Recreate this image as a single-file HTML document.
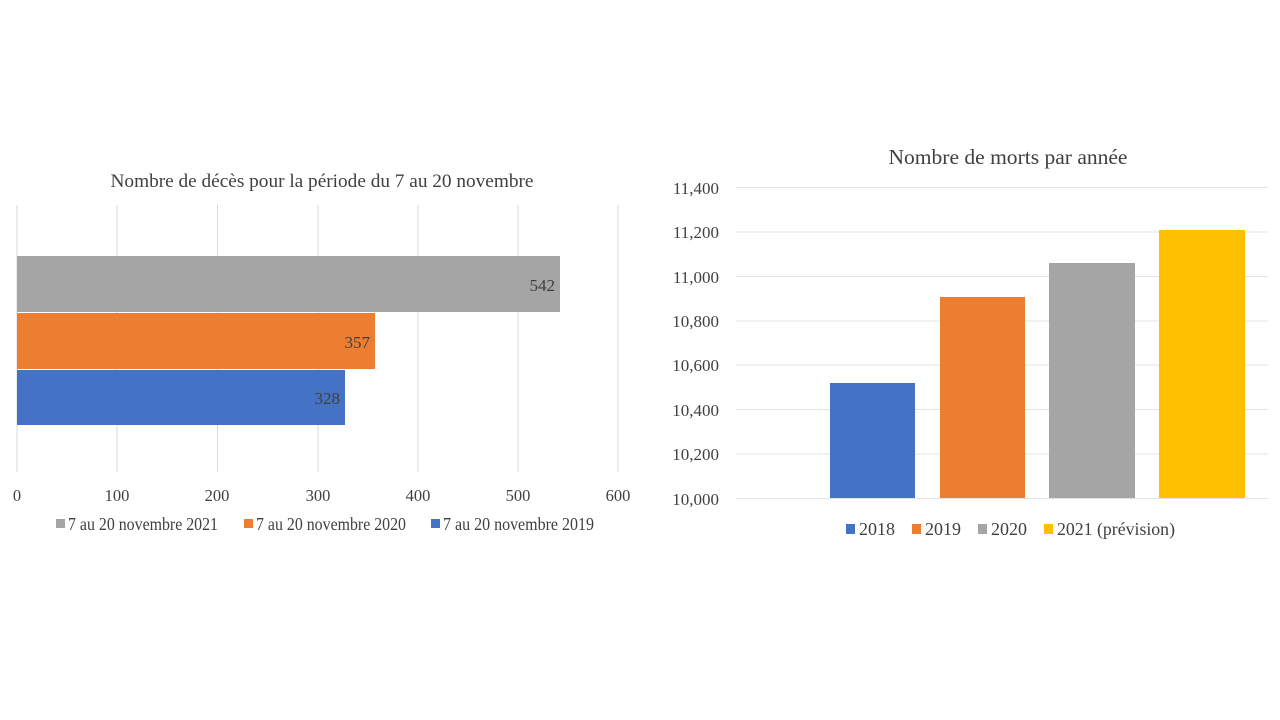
<!DOCTYPE html>
<html><head><meta charset="utf-8"><style>
body{margin:0;width:1280px;height:720px;background:#fff;overflow:hidden;font-family:"Liberation Serif",serif;}
svg{position:absolute;left:0;top:0}
</style></head><body>
<svg width="1280" height="720" xmlns="http://www.w3.org/2000/svg" font-family="Liberation Serif, serif">
<text x="322" y="187" font-size="19.3" fill="#404040" text-anchor="middle">Nombre de décès pour la période du 7 au 20 novembre</text>
<g stroke="#d9d9d9" stroke-width="1">
<line x1="17" y1="205" x2="17" y2="472"/><line x1="117" y1="205" x2="117" y2="472"/><line x1="217.5" y1="205" x2="217.5" y2="472"/><line x1="318" y1="205" x2="318" y2="472"/><line x1="418" y1="205" x2="418" y2="472"/><line x1="518" y1="205" x2="518" y2="472"/><line x1="618" y1="205" x2="618" y2="472"/>
</g>
<rect x="17" y="256" width="543" height="56" fill="#a5a5a5"/>
<rect x="17" y="313" width="358" height="56" fill="#ed7d31"/>
<rect x="17" y="370" width="328" height="55" fill="#4472c4"/>
<g font-size="17" fill="#404040" text-anchor="end">
<text x="555" y="291">542</text><text x="370" y="348">357</text><text x="340" y="404">328</text>
</g>
<g font-size="16.5" fill="#404040" text-anchor="middle">
<text x="17" y="501">0</text><text x="117" y="501">100</text><text x="217" y="501">200</text><text x="318" y="501">300</text><text x="418" y="501">400</text><text x="518" y="501">500</text><text x="618" y="501">600</text>
</g>
<g font-size="18" fill="#404040">
<rect x="56" y="519" width="9" height="9" fill="#a5a5a5"/><text x="68" y="530" textLength="150" lengthAdjust="spacingAndGlyphs">7 au 20 novembre 2021</text>
<rect x="244" y="519" width="9" height="9" fill="#ed7d31"/><text x="256" y="530" textLength="150" lengthAdjust="spacingAndGlyphs">7 au 20 novembre 2020</text>
<rect x="431" y="519" width="9" height="9" fill="#4472c4"/><text x="443" y="530" textLength="151" lengthAdjust="spacingAndGlyphs">7 au 20 novembre 2019</text>
</g>

<text x="1008" y="164" font-size="21.5" fill="#404040" text-anchor="middle" textLength="239" lengthAdjust="spacingAndGlyphs">Nombre de morts par année</text>
<g stroke="#e3e3e3" stroke-width="1">
<line x1="736" y1="187.5" x2="1268" y2="187.5"/><line x1="736" y1="232" x2="1268" y2="232"/><line x1="736" y1="276.5" x2="1268" y2="276.5"/><line x1="736" y1="321" x2="1268" y2="321"/><line x1="736" y1="365" x2="1268" y2="365"/><line x1="736" y1="409.5" x2="1268" y2="409.5"/><line x1="736" y1="454" x2="1268" y2="454"/><line x1="736" y1="498.5" x2="1268" y2="498.5"/>
</g>
<g font-size="17" fill="#404040" text-anchor="end">
<text x="719" y="194">11,400</text><text x="719" y="238">11,200</text><text x="719" y="283">11,000</text><text x="719" y="327">10,800</text><text x="719" y="371">10,600</text><text x="719" y="416">10,400</text><text x="719" y="460">10,200</text><text x="719" y="505">10,000</text>
</g>
<rect x="830" y="383" width="85" height="115" fill="#4472c4"/>
<rect x="940" y="297" width="85" height="201" fill="#ed7d31"/>
<rect x="1049" y="263" width="86" height="235" fill="#a5a5a5"/>
<rect x="1159" y="230" width="86" height="268" fill="#ffc000"/>
<g font-size="18" fill="#404040">
<rect x="846" y="524" width="9" height="10" fill="#4472c4"/><text x="859" y="535">2018</text>
<rect x="912" y="524" width="9" height="10" fill="#ed7d31"/><text x="925" y="535">2019</text>
<rect x="978" y="524" width="9" height="10" fill="#a5a5a5"/><text x="991" y="535">2020</text>
<rect x="1044" y="524" width="9" height="10" fill="#ffc000"/><text x="1057" y="535" textLength="118" lengthAdjust="spacingAndGlyphs">2021 (prévision)</text>
</g>
</svg>
</body></html>
